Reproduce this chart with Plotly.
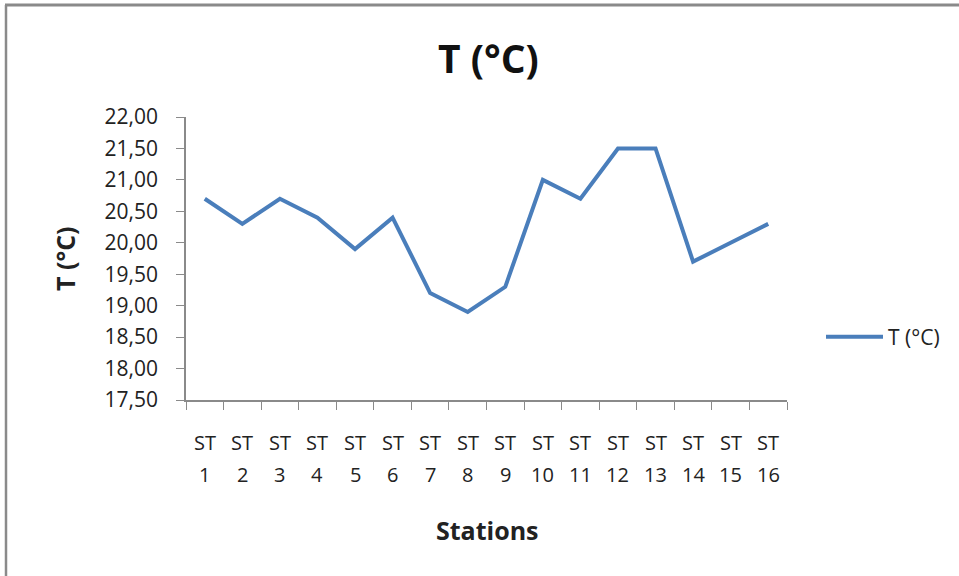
import plotly.graph_objects as go

stations = [f"ST {i}" for i in range(1, 17)]
st_prefix = ["ST"] * 16
st_numbers = [str(i) for i in range(1, 17)]
temps = [20.7, 20.3, 20.7, 20.4, 19.9, 20.4, 19.2, 18.9, 19.3, 21.0, 20.7, 21.5, 21.5, 19.7, 20.0, 20.3]
y_ticks = [17.5, 18.0, 18.5, 19.0, 19.5, 20.0, 20.5, 21.0, 21.5, 22.0]

FONT = "Open Sans"
W, H = 959, 576
L, R, T, B = 186, 959 - 787, 117, 576 - 400
pw, ph = W - L - R, H - T - B


def px(xp):
    return (xp - L) / pw


def py(yp):
    return (H - B - yp) / ph


fig = go.Figure()
fig.add_trace(go.Scatter(
    x=stations, y=temps, mode="lines", name="T (°C)",
    line=dict(color="#4A7EBB", width=4),
))

annotations = []
for s, p, n in zip(stations, st_prefix, st_numbers):
    annotations.append(dict(x=s, y=0, xref="x", yref="paper", text=p, showarrow=False,
                            yanchor="middle", yshift=-42, font=dict(family=FONT, size=20, color="#222")))
    annotations.append(dict(x=s, y=0, xref="x", yref="paper", text=n, showarrow=False,
                            yanchor="middle", yshift=-74, font=dict(family=FONT, size=20, color="#222")))

annotations.append(dict(x=px(488), y=py(57), xref="paper", yref="paper",
                        text="<b>T (°C)</b>", showarrow=False, xanchor="center", yanchor="middle",
                        font=dict(family=FONT, size=39, color="#111")))
annotations.append(dict(x=px(487), y=py(530), xref="paper", yref="paper",
                        text="<b>Stations</b>", showarrow=False, xanchor="center", yanchor="middle",
                        font=dict(family=FONT, size=25, color="#222")))
annotations.append(dict(x=px(65), y=py(259), xref="paper", yref="paper",
                        text="<b>T (°C)</b>", showarrow=False, xanchor="center", yanchor="middle",
                        textangle=-90, font=dict(family=FONT, size=25, color="#222")))

shapes = [
    dict(type="line", xref="paper", yref="paper", x0=px(5), x1=px(W + 20),
         y0=py(5), y1=py(5), line=dict(color="#8a8a8a", width=3)),
    dict(type="line", xref="paper", yref="paper", x0=px(6), x1=px(6),
         y0=py(5), y1=py(H + 20), line=dict(color="#8a8a8a", width=2.5)),
]

fig.update_layout(
    width=W, height=H,
    margin=dict(l=L, r=R, t=T, b=B),
    paper_bgcolor="white", plot_bgcolor="white",
    separators=", ",
    font=dict(family=FONT, size=20, color="#222"),
    showlegend=True,
    legend=dict(x=px(821), y=py(337), xanchor="left", yanchor="middle",
                font=dict(family=FONT, size=21, color="#222"), bgcolor="rgba(0,0,0,0)",
                itemwidth=57),
    xaxis=dict(type="category", range=[-0.5, 15.5], showticklabels=False,
               showline=True, linecolor="#8a8a8a", linewidth=1.5,
               ticks="outside", tickson="boundaries", ticklen=8, tickcolor="#8a8a8a",
               showgrid=False, zeroline=False, fixedrange=True),
    yaxis=dict(range=[17.5, 22.0], tickvals=y_ticks, tickformat=".2f",
               showline=True, linecolor="#8a8a8a", linewidth=1.5,
               ticks="outside", ticklen=8, tickcolor="#8a8a8a", ticklabelstandoff=14,
               showgrid=False, zeroline=False, tickfont=dict(family=FONT, size=21, color="#222")),
    annotations=annotations,
    shapes=shapes,
)

fig.write_html("out.html", config={"displayModeBar": False},
               post_script="document.body.style.margin='0px';")
